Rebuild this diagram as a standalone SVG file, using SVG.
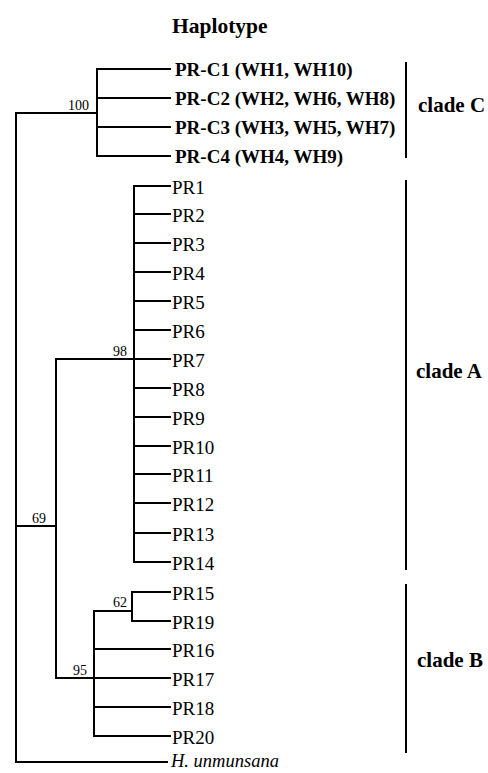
<svg xmlns="http://www.w3.org/2000/svg" width="488" height="773" viewBox="0 0 488 773">
<style>
.br{stroke:#000;stroke-width:2;fill:none;stroke-linecap:square}
.bar{stroke:#000;stroke-width:2;fill:none}
.lf{font-family:"Liberation Serif","Times New Roman",serif;font-size:19px;fill:#000}
.lc{font-family:"Liberation Serif","Times New Roman",serif;font-size:19px;font-weight:bold;fill:#000}
.bs{font-family:"Liberation Serif","Times New Roman",serif;font-size:14px;fill:#000}
.cl{font-family:"Liberation Serif","Times New Roman",serif;font-size:21px;font-weight:bold;fill:#000}
.ti{font-family:"Liberation Serif","Times New Roman",serif;font-size:21.5px;font-weight:bold;fill:#000}
.it{font-family:"Liberation Serif","Times New Roman",serif;font-size:18.5px;font-style:italic;fill:#000}
</style>
<rect width="488" height="773" fill="#fff"/>
<text id="title" class="ti" x="172" y="33">Haplotype</text>
<g id="connectors">
<path class="br" d="M16,113 V762 H167"/>
<path class="br" d="M16,113 H97 M97,69 V156 M97,69 H170 M97,98 H170 M97,127 H170 M97,156 H170"/>
<path class="br" d="M16,526 H56 M56,359 V678"/>
<path class="br" d="M56,359 H134 M134,186 V562 M134,186 H170 M134,214 H170 M134,243 H170 M134,272 H170 M134,301 H170 M134,330 H170 M134,359 H170 M134,388 H170 M134,417 H170 M134,446 H170 M134,474 H170 M134,503 H170 M134,533 H170 M134,562 H170"/>
<path class="br" d="M56,678 H170 M94,611 V736 M94,649 H170 M94,707 H170 M94,736 H170"/>
<path class="br" d="M94,611 H132 M132,592 V621 M132,592 H170 M132,621 H170"/>
</g>
<g id="node-cladeC">
<text class="bs" x="68" y="110">100</text>
<text class="lc" x="175" y="76">PR-C1 (WH1, WH10)</text>
<text class="lc" x="175" y="105">PR-C2 (WH2, WH6, WH8)</text>
<text class="lc" x="175" y="134">PR-C3 (WH3, WH5, WH7)</text>
<text class="lc" x="175" y="163">PR-C4 (WH4, WH9)</text>
</g>
<g id="node-cladeA">
<text class="bs" x="113" y="356">98</text>
<text class="lf" x="172" y="194">PR1</text>
<text class="lf" x="172" y="222">PR2</text>
<text class="lf" x="172" y="251">PR3</text>
<text class="lf" x="172" y="280">PR4</text>
<text class="lf" x="172" y="309">PR5</text>
<text class="lf" x="172" y="338">PR6</text>
<text class="lf" x="172" y="367">PR7</text>
<text class="lf" x="172" y="396">PR8</text>
<text class="lf" x="172" y="425">PR9</text>
<text class="lf" x="172" y="454">PR10</text>
<text class="lf" x="172" y="482">PR11</text>
<text class="lf" x="172" y="511">PR12</text>
<text class="lf" x="172" y="541">PR13</text>
<text class="lf" x="172" y="570">PR14</text>
</g>
<g id="node-69">
<text class="bs" x="32" y="523">69</text>
</g>
<g id="node-cladeB">
<text class="bs" x="73" y="675">95</text>
<text class="bs" x="113" y="607">62</text>
<text class="lf" x="172" y="600">PR15</text>
<text class="lf" x="172" y="629">PR19</text>
<text class="lf" x="172" y="657">PR16</text>
<text class="lf" x="172" y="686">PR17</text>
<text class="lf" x="172" y="715">PR18</text>
<text class="lf" x="172" y="744">PR20</text>
</g>
<g id="node-outgroup">
<text class="it" x="171" y="767">H. unmunsana</text>
</g>
<g id="clade-bars">
<line class="bar" x1="406" y1="62" x2="406" y2="158"/>
<line class="bar" x1="406" y1="180" x2="406" y2="570"/>
<line class="bar" x1="406" y1="584" x2="406" y2="753"/>
<text class="cl" x="418" y="112">clade C</text>
<text class="cl" x="416" y="378">clade A</text>
<text class="cl" x="417" y="667">clade B</text>
</g>
</svg>
